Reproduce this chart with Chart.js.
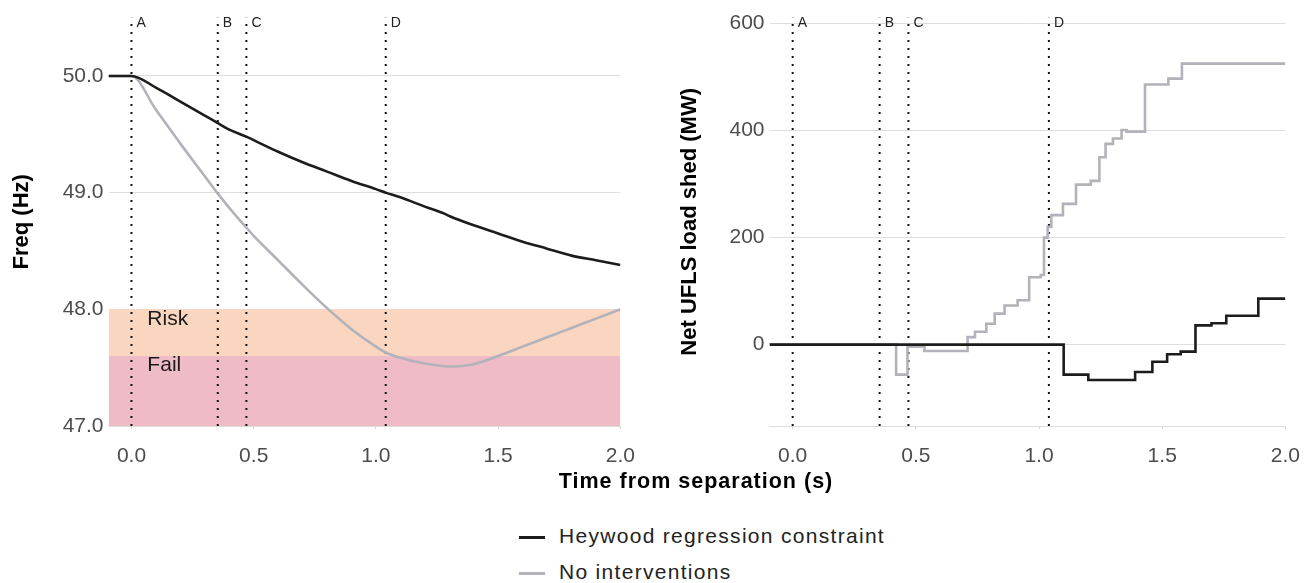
<!DOCTYPE html>
<html lang="en">

<head>
    <meta charset="UTF-8">
    <title>Frequency and net UFLS load shed</title>
    <script src="https://cdn.jsdelivr.net/npm/chart.js"></script>

    <style>
        body {
            margin: 0;
            background: #fff;
            font-family: "Liberation Sans", Arial, sans-serif;
        }

        #wrap {
            position: relative;
            width: 1315px;
            height: 583px;
            overflow: hidden;
        }

        .panel {
            position: absolute;
            top: 0;
            height: 470px;
        }

        #freqBox { left: 0; width: 650px; }
        #shedBox { left: 660px; width: 655px; }

        #xTitle {
            position: absolute;
            left: 446px;
            width: 500px;
            top: 469px;
            line-height: 24px;
            text-align: center;
            font-weight: bold;
            font-size: 21.5px;
            letter-spacing: 1px;
            color: #000;
        }

        #legend {
            position: absolute;
            left: 519px;
            top: 524px;
        }

        .legend-row {
            height: 24px;
            line-height: 24px;
            margin-bottom: 11.6px;
            font-size: 21px;
            letter-spacing: 1.3px;
            color: #222;
            white-space: nowrap;
        }

        .legend-line {
            display: inline-block;
            width: 26px;
            height: 3px;
            margin-right: 14px;
            vertical-align: middle;
        }
    </style>
</head>

<body>
    <div id="wrap">
        <div class="panel" id="freqBox"><canvas id="freqChart"></canvas></div>
        <div class="panel" id="shedBox"><canvas id="shedChart"></canvas></div>
        <div id="xTitle">Time from separation (s)</div>
        <div id="legend"></div>
    </div>

    <script>
        // series names and colours
        const seriesNames = ['Heywood regression constraint', 'No interventions'];
        const seriesColors = ['#1c1c1c', '#b2b2ba'];

        // event markers (s)
        const markerTimes = [0, 0.353, 0.47, 1.04];
        const markerLabels = ['A', 'B', 'C', 'D'];

        // axis ticks
        const timeTicks = [0, 0.5, 1.0, 1.5, 2.0];
        const freqTicks = [47, 48, 49, 50];
        const shedTicks = [0, 200, 400, 600];

        const xMin = -0.094;
        const xMax = 2.0;

        // left panel: frequency (Hz)
        const freqTimes = [-0.094, 0, 0.1, 0.2, 0.3, 0.35, 0.4, 0.47, 0.5, 0.6, 0.7, 0.8, 0.9,
            1.0, 1.04, 1.1, 1.2, 1.28, 1.3, 1.4, 1.5, 1.6, 1.7, 1.8, 1.9, 2.0];
        const freqHeywood = [50.0, 50.0, 49.9, 49.78, 49.66, 49.6, 49.54, 49.48, 49.45, 49.35, 49.26, 49.18, 49.1,
            49.03, 49.0, 48.96, 48.88, 48.82, 48.8, 48.72, 48.65, 48.58, 48.52, 48.46, 48.42, 48.38];
        const freqNoInt = [50.0, 50.0, 49.71, 49.42, 49.14, 49.0, 48.87, 48.7, 48.63, 48.42, 48.21, 48.01, 47.83,
            47.68, 47.63, 47.585, 47.535, 47.512, 47.51, 47.53, 47.6, 47.68, 47.76, 47.84, 47.92, 48.0];

        // frequency bands
        const bandLabels = ['Fail', 'Risk'];
        const bandLow = [47.0, 47.6];
        const bandHigh = [47.6, 48.0];
        const bandColors = ['#eebbc6', '#fad5bf'];
        const bandLabelTime = 0.065;
        const bandLabelFreq = [47.52, 47.915];

        // right panel: net UFLS load shed (MW), step changes
        const shedTimesHeywood = [-0.094, 1.10, 1.20, 1.39, 1.46, 1.52, 1.575, 1.635, 1.70, 1.76, 1.89, 2.0];
        const shedHeywood = [0, -56, -66, -51, -32, -18, -13, 36, 40, 54, 86, 86];
        const shedTimesNoInt = [-0.094, 0.42, 0.466, 0.535, 0.71, 0.74, 0.786, 0.82, 0.86, 0.913, 0.96, 1.007,
            1.02, 1.035, 1.05, 1.097, 1.15, 1.21, 1.245, 1.27, 1.30, 1.335, 1.355, 1.43, 1.525, 1.58, 2.0];
        const shedNoInt = [0, -56, -4, -12, 14, 24, 39, 58, 73, 83, 126, 130,
            200, 220, 242, 263, 299, 306, 350, 375, 385, 401, 398, 486, 497, 525, 525];

        const tickFont = { family: 'Liberation Sans', size: 21 };
        const titleFont = { family: 'Liberation Sans', size: 22, weight: 'bold' };

        function toPoints(xs, ys) {
            return xs.map((x, i) => ({ x: x, y: ys[i] }));
        }

        function fixedTicks(values) {
            return s => { s.ticks = values.map(v => ({ value: v })); };
        }

        function markerDatasets(yMin, yMax) {
            return markerTimes.map(t => ({
                data: [{ x: t, y: yMin }, { x: t, y: yMax }],
                borderColor: '#111',
                borderWidth: 2,
                borderDash: [2, 6],
                pointRadius: 0,
                order: 2
            }));
        }

        // text labels: A-D at the top, band names inside the bands
        const labelPlugin = {
            id: 'labels',
            afterDatasetsDraw(chart, args, opts) {
                const { ctx, chartArea, scales } = chart;
                ctx.save();
                ctx.fillStyle = '#222';
                ctx.textBaseline = 'middle';
                ctx.textAlign = 'left';
                ctx.font = '14px "Liberation Sans"';
                markerTimes.forEach((t, i) => {
                    ctx.fillText(markerLabels[i], scales.x.getPixelForValue(t) + 5, chartArea.top + 6);
                });
                if (opts.bands) {
                    ctx.font = '21px "Liberation Sans"';
                    ctx.fillStyle = '#1a1a1a';
                    bandLabels.forEach((name, i) => {
                        ctx.fillText(name, scales.x.getPixelForValue(bandLabelTime),
                            scales.y.getPixelForValue(bandLabelFreq[i]));
                    });
                }
                ctx.restore();
            }
        };

        function xAxis() {
            return {
                type: 'linear',
                min: xMin,
                max: xMax,
                afterBuildTicks: fixedTicks(timeTicks),
                afterFit: s => { s.height = 44; },
                ticks: {
                    padding: 15,
                    color: '#4d4d4d',
                    font: tickFont,
                    callback: v => v.toFixed(1)
                },
                grid: { drawOnChartArea: false, drawTicks: true, tickLength: 3, tickColor: '#d5d5d5' },
                border: { display: true, color: '#dedede' }
            };
        }

        function yAxis(min, max, ticks, width, fmt, title, titlePad) {
            return {
                min: min,
                max: max,
                afterBuildTicks: fixedTicks(ticks),
                afterFit: s => { s.width = width; },
                ticks: { padding: 5, color: '#4d4d4d', font: tickFont, callback: fmt },
                grid: { color: '#dedede', drawTicks: false },
                border: { display: false },
                title: { display: true, text: title, color: '#000', font: titleFont, padding: { top: titlePad, bottom: 0 } }
            };
        }

        function baseOptions(yScale, rightPad, bands) {
            return {
                responsive: true,
                maintainAspectRatio: false,
                animation: false,
                layout: { padding: { top: 17, right: rightPad, left: 0, bottom: 0 } },
                plugins: {
                    legend: { display: false },
                    tooltip: { enabled: false },
                    labels: { bands: bands }
                },
                scales: { x: xAxis(), y: yScale }
            };
        }

        const freqDatasets = [
            {
                data: toPoints(freqTimes, freqHeywood),
                borderColor: seriesColors[0],
                borderWidth: 2.6,
                pointRadius: 0,
                cubicInterpolationMode: 'monotone',
                order: 0
            },
            {
                data: toPoints(freqTimes, freqNoInt),
                borderColor: seriesColors[1],
                borderWidth: 2.6,
                pointRadius: 0,
                cubicInterpolationMode: 'monotone',
                order: 1
            },
            ...markerDatasets(47, 50.5)
        ];
        bandLabels.forEach((name, i) => {
            freqDatasets.push({
                data: [{ x: xMin, y: bandHigh[i] }, { x: xMax, y: bandHigh[i] }],
                borderColor: 'rgba(0,0,0,0)',
                borderWidth: 0,
                backgroundColor: bandColors[i],
                fill: { value: bandLow[i] },
                pointRadius: 0,
                order: 5
            });
        });

        new Chart(document.getElementById('freqChart'), {
            type: 'line',
            data: { datasets: freqDatasets },
            options: baseOptions(
                yAxis(47, 50.5, freqTicks, 108.5, v => v.toFixed(1), 'Freq (Hz)', 9), 20.5, true),
            plugins: [labelPlugin]
        });

        new Chart(document.getElementById('shedChart'), {
            type: 'line',
            data: {
                datasets: [
                    {
                        data: toPoints(shedTimesHeywood, shedHeywood),
                        borderColor: seriesColors[0],
                        borderWidth: 2.6,
                        pointRadius: 0,
                        stepped: true,
                        order: 0
                    },
                    {
                        data: toPoints(shedTimesNoInt, shedNoInt),
                        borderColor: seriesColors[1],
                        borderWidth: 2.6,
                        pointRadius: 0,
                        stepped: true,
                        order: 1
                    },
                    ...markerDatasets(-152, 611)
                ]
            },
            options: baseOptions(
                yAxis(-152, 611, shedTicks, 109.5, v => String(v), 'Net UFLS load shed (MW)', 17), 25, false),
            plugins: [labelPlugin]
        });

        // shared legend
        const legend = document.getElementById('legend');
        seriesNames.forEach((name, i) => {
            const row = document.createElement('div');
            row.className = 'legend-row';
            row.innerHTML = '<span class="legend-line" style="background:' + seriesColors[i] + '"></span>' + name;
            legend.appendChild(row);
        });
    </script>
</body>

</html>
